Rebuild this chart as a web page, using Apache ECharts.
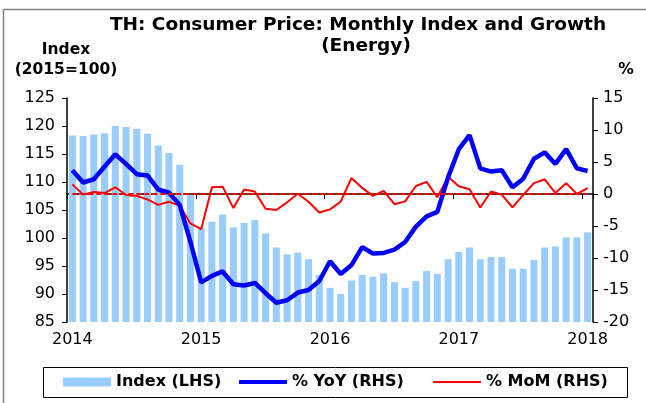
<!DOCTYPE html>
<html>
<head>
<meta charset="utf-8">
<script src="https://cdn.jsdelivr.net/npm/echarts@6/dist/echarts.min.js"></script>
<style>html,body{margin:0;padding:0;background:#fff;}#c{width:646px;height:403px;}</style>
</head>
<body>
<div id="c"></div>
<script>
var categories = [
 '2014-01','2014-02','2014-03','2014-04','2014-05','2014-06','2014-07','2014-08','2014-09','2014-10','2014-11','2014-12',
 '2015-01','2015-02','2015-03','2015-04','2015-05','2015-06','2015-07','2015-08','2015-09','2015-10','2015-11','2015-12',
 '2016-01','2016-02','2016-03','2016-04','2016-05','2016-06','2016-07','2016-08','2016-09','2016-10','2016-11','2016-12',
 '2017-01','2017-02','2017-03','2017-04','2017-05','2017-06','2017-07','2017-08','2017-09','2017-10','2017-11','2017-12',
 '2018-01'];
var indexValues = [
 118.3,118.2,118.5,118.7,120.0,119.8,119.5,118.6,116.5,115.2,113.1,107.7,
 101.8,102.9,104.2,101.9,102.7,103.2,100.8,98.3,97.1,97.4,96.2,93.4,
 91.1,90.0,92.4,93.4,93.1,93.7,92.1,91.1,92.3,94.1,93.6,96.2,
 97.5,98.3,96.2,96.6,96.6,94.5,94.5,96.1,98.3,98.5,100.1,100.1,
 101.0];
var yoyValues = [
 3.7,1.8,2.3,4.3,6.2,4.7,3.1,2.9,0.7,0.2,-1.7,-7.5,
 -13.8,-12.8,-12.1,-14.1,-14.3,-13.9,-15.5,-17.0,-16.6,-15.4,-15.0,-13.6,
 -10.5,-12.5,-11.1,-8.3,-9.3,-9.2,-8.7,-7.5,-5.1,-3.5,-2.8,2.6,
 7.0,9.2,4.0,3.5,3.7,1.05,2.4,5.5,6.5,4.7,7.0,4.0,
 3.6];
var momValues = [
 1.5,-0.1,0.3,0.15,1.05,-0.15,-0.3,-0.85,-1.7,-1.2,-1.85,-4.6,
 -5.5,1.05,1.15,-2.2,0.7,0.4,-2.3,-2.5,-1.3,0.05,-1.2,-2.9,
 -2.4,-1.2,2.5,0.95,-0.3,0.5,-1.6,-1.15,1.25,1.9,-0.5,2.7,
 1.2,0.75,-2.1,0.4,-0.1,-2.1,-0.15,1.7,2.3,0.15,1.7,0.0,
 0.9];
var seriesNames = ['Index (LHS)','% YoY (RHS)','% MoM (RHS)'];
var titleLines = ['TH: Consumer Price: Monthly Index and Growth','(Energy)'];
var leftAxisName = ['Index','(2015=100)'];
var rightAxisName = '%';

var FONT = 'DejaVu Sans';
var legendText = {fontFamily: FONT, fontSize: 16, fontWeight: 'bold', color: '#000'};
function mkLegend(name, left, h) {
  return {left: left, top: 374, padding: 0, itemWidth: 48, itemHeight: h,
          textStyle: legendText, data: [{name: name, icon: 'rect'}]};
}
var chart = echarts.init(document.getElementById('c'), null, {renderer:'canvas'});
chart.setOption({
  animation: false,
  backgroundColor: '#ffffff',
  textStyle: {fontFamily: FONT},
  grid: {left: 67, right: 53, top: 98, bottom: 81, containLabel: false},
  graphic: [
    {type:'rect', shape:{x:3.5,y:9.5,width:700,height:500}, style:{fill:'none', stroke:'#808080', lineWidth:1.5}, silent:true},
    {type:'rect', shape:{x:43.5,y:367.5,width:584,height:30}, style:{fill:'none', stroke:'#000', lineWidth:1}, silent:true},
    {type:'text', x:358, y:25, style:{text:titleLines[0], font:'bold 18.5px "DejaVu Sans"', fill:'#000', textAlign:'center', textVerticalAlign:'middle'}},
    {type:'text', x:366, y:46, style:{text:titleLines[1], font:'bold 18.5px "DejaVu Sans"', fill:'#000', textAlign:'center', textVerticalAlign:'middle'}},
    {type:'text', x:66, y:50, style:{text:leftAxisName[0], font:'bold 15.5px "DejaVu Sans"', fill:'#000', textAlign:'center', textVerticalAlign:'middle'}},
    {type:'text', x:66, y:70, style:{text:leftAxisName[1], font:'bold 15.5px "DejaVu Sans"', fill:'#000', textAlign:'center', textVerticalAlign:'middle'}},
    {type:'text', x:626, y:70, style:{text:rightAxisName, font:'bold 15.5px "DejaVu Sans"', fill:'#000', textAlign:'center', textVerticalAlign:'middle'}}
  ],
  legend: [
    mkLegend(seriesNames[0], 63, 9),
    mkLegend(seriesNames[1], 239, 4),
    mkLegend(seriesNames[2], 433, 2)
  ],
  xAxis: {
    type: 'category',
    data: categories,
    boundaryGap: true,
    axisLine: {lineStyle: {color: '#000', width: 1.5}},
    axisTick: {show: true, length: 5, lineStyle: {color: '#000'}, interval: function(i){ return i % 12 === 0; }},
    axisLabel: {
      interval: function(i){ return i % 12 === 0; },
      formatter: function(v){ return v.slice(0,4); },
      color: '#000', fontSize: 16, fontFamily: FONT, margin: 10
    },
    splitLine: {show: false}
  },
  yAxis: [
    {
      type: 'value', min: 85, max: 125, interval: 5, position: 'left',
      axisLine: {show: true, lineStyle: {color: '#000', width: 1.5}},
      axisTick: {show: true, length: 5, lineStyle: {color: '#000'}},
      axisLabel: {color: '#000', fontSize: 16, fontFamily: FONT, margin: 12},
      splitLine: {show: false}
    },
    {
      type: 'value', min: -20, max: 15, interval: 5, position: 'right',
      axisLine: {show: true, lineStyle: {color: '#000', width: 1.5}},
      axisTick: {show: true, length: 5, lineStyle: {color: '#000'}},
      axisLabel: {color: '#000', fontSize: 16, fontFamily: FONT, margin: 10},
      splitLine: {show: false}
    }
  ],
  series: [
    {
      name: seriesNames[0], type: 'bar', yAxisIndex: 0, data: indexValues,
      barWidth: 7, itemStyle: {color: '#99ccff'}, z: 1
    },
    {
      name: seriesNames[1], type: 'line', yAxisIndex: 1, data: yoyValues,
      symbol: 'none', lineStyle: {color: '#0000ff', width: 4.5}, itemStyle: {color: '#0000ff'}, z: 4
    },
    {
      name: seriesNames[2], type: 'line', yAxisIndex: 1, data: momValues,
      symbol: 'none', lineStyle: {color: '#ff0000', width: 2}, itemStyle: {color: '#ff0000'}, z: 3,
      markLine: {
        silent: true, symbol: ['none','none'], label: {show: false},
        lineStyle: {color: '#ff0000', width: 2, type: [5,3]},
        data: [[{coord: [0, 0]}, {coord: [categories.length - 1, 0]}]]
      }
    }
  ]
});
</script>
</body>
</html>
